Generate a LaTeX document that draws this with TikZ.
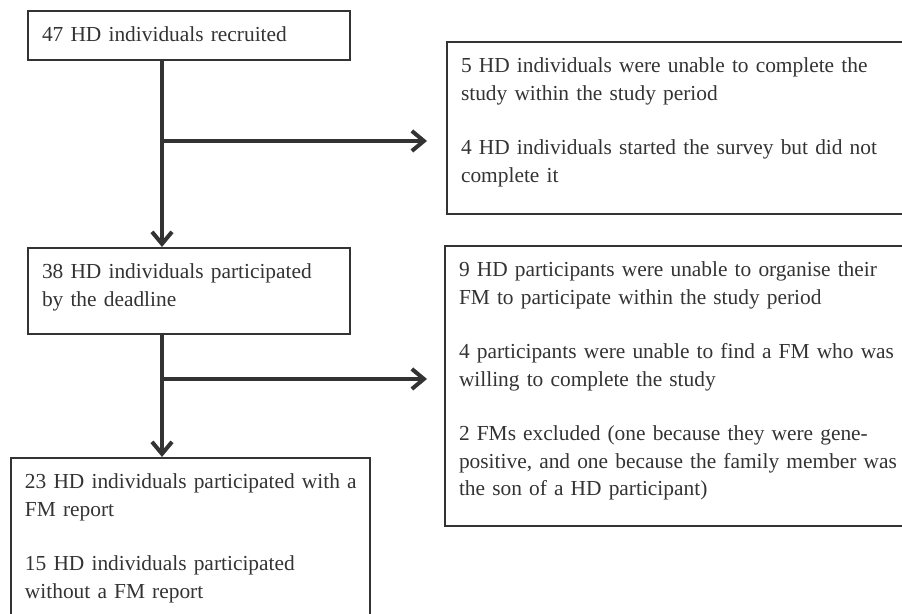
\documentclass[tikz,border=0pt]{standalone}
\usepackage{fontspec}
\setmainfont{Liberation Serif}
\usepackage{tikz}
\usetikzlibrary{arrows.meta}
\definecolor{ink}{gray}{0.2}
\tikzset{
  flowbox/.style={draw=ink, line width=1pt, anchor=north west, align=left, inner xsep=7pt, inner ysep=0pt,
    text height=15.5pt, text=ink, font=\fontsize{10.7}{13.65}\selectfont},
  flowarrow/.style={draw=ink, line width=2pt, -{Straight Barb[length=6pt,width=10pt]}}
}

\begin{document}
\begin{tikzpicture}[x=0.5pt, y=-0.5pt]
	\useasboundingbox (0,0) rectangle (902,614);
	\clip (0,0) rectangle (902,614);
	% main column
	\node[flowbox, text width=147pt, text depth=9pt] at (27,10) (rec) {47 HD individuals recruited};
	\node[flowbox, text width=147pt, text depth=27.5pt] at (27,247) (part) {38 HD individuals participated\\ by the deadline};
	\node[flowbox, text width=165.5pt, text depth=76pt] at (10,457) (fm) {\mbox{23 HD individuals participated with a}\\ FM report\\[13.65pt] 15 HD individuals participated\\ without a FM report};
	% exclusions
	\node[flowbox, text width=228pt, text depth=70.5pt] at (446,41) (excl1) {5 HD individuals were unable to complete the\\ study within the study period\\[13.65pt] 4 HD individuals started the survey but did not\\ complete it};
	\node[flowbox, text width=228pt, text depth=124.5pt] at (444,245) (excl2) {9 HD participants were unable to organise their\\ FM to participate within the study period\\[13.65pt] 4 participants were unable to find a FM who was\\ willing to complete the study\\[13.65pt] 2 FMs excluded (one because they were gene-\\ positive, and one because the family member was\\ the son of a HD participant)};
	% arrows
	\draw[flowarrow] ([xshift=67.5pt]rec.south west) coordinate (s1) -- (s1 |- part.north);
	\draw[flowarrow] ([xshift=67.5pt]part.south west) coordinate (s2) -- (s2 |- fm.north);
	\coordinate (b1) at (162,141);
	\coordinate (b2) at (162,379);
	\draw[flowarrow, shorten >=9.5pt] (b1) -- (b1 -| excl1.west);
	\draw[flowarrow, shorten >=8.5pt] (b2) -- (b2 -| excl2.west);
\end{tikzpicture}
\end{document}
